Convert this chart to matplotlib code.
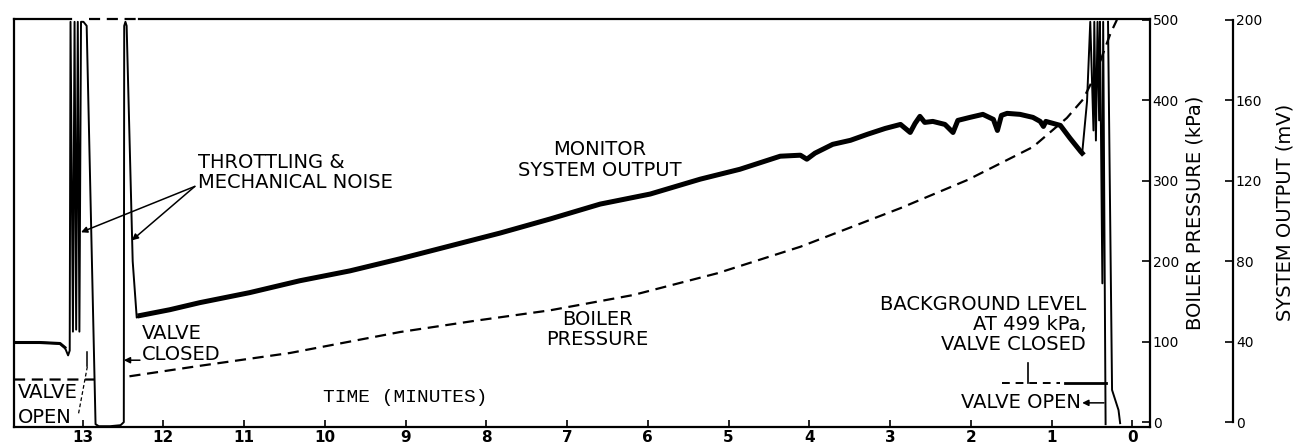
import matplotlib
matplotlib.use("Agg")

import matplotlib.pyplot as plt
import matplotlib.transforms as mtransforms
import numpy as np
from matplotlib import font_manager

nan = np.nan

# time axis in minutes, counting down to 0 at the right
time_ticks = [13, 12, 11, 10, 9, 8, 7, 6, 5, 4, 3, 2, 1, 0]
pressure_ticks = [0, 100, 200, 300, 400, 500]
output_ticks = [0, 40, 80, 120, 160, 200]

# boiler pressure (kPa) -- dashed trace, NaN where the pen is lifted
press_t = [13.85, 12.85, nan, 12.42, 11.55, 10.43, 9.07, 8.14, 7.21, 6.18,
           5.14, 4.11, 2.87, 2.04, 1.23, 0.81, 0.61, 0.46, 0.27, 0.19]
press_kpa = [53, 53, nan, 57, 70, 86, 112, 126, 139, 158,
             185, 218, 266, 301, 342, 378, 401, 431, 483, 500]

# monitor system output (mV)
out_t = [13.85, 13.53, 13.28, 13.22, 13.18, 13.16, 13.15,
         13.12, 13.10, 13.08, 13.06, 13.04, 13.02, 12.99, 12.95,
         12.84, 12.80, 12.66, 12.53, 12.49, 12.485, 12.47, 12.455, 12.38, 12.33,
         12.29, 11.92, 11.55, 10.93, 10.31, 9.69, 9.07, 8.45, 7.83, 7.21,
         6.59, 5.97, 5.35, 4.86, 4.36, 4.11, 4.03, 3.93, 3.71, 3.49,
         3.28, 3.06, 2.87, 2.75, 2.69, 2.63, 2.57, 2.47, 2.32, 2.22,
         2.16, 2.01, 1.85, 1.72, 1.67, 1.62, 1.55, 1.39, 1.23, 1.14,
         1.10, 1.07, 0.89, 0.77, 0.64, 0.62,
         0.56, 0.52, 0.48, 0.47, 0.45, 0.43, 0.41, 0.40, 0.37, 0.36, 0.33,
         nan, 0.30, 0.25, 0.17, 0.15]
out_mv = [39.6, 39.6, 39.1, 37.1, 33.2, 35.6, 199,
          45, 199, 46, 199, 45, 199, 199, 197,
          -1, -2, -2, -1.5, 0, 197, 199, 197, 80, 52,
          53.0, 55.9, 59.4, 64.4, 70.3, 75.2, 81.2, 87.6, 94.0, 101.0,
          108.4, 113.4, 120.8, 125.7, 132.2, 132.7, 130.7, 133.7, 138.1, 140.1,
          143.1, 146.0, 148.0, 144.0, 148.5, 152.0, 149.0, 149.5, 148.0, 144.0,
          150.0, 151.5, 153.0, 150.5, 145.0, 152.5, 153.5, 153.0, 151.5, 149.5,
          147.0, 149.5, 147.5, 141.1, 134.6, 133.7,
          159.4, 199, 145, 199, 140, 199, 150, 199, 69, 199, -1,
          nan, 199, 16, 6, -0.5]

# background level after the valve is closed (mV)
bg_level_mv = 19.3

names = {f.name for f in font_manager.fontManager.ttflist}
num_font = "Liberation Sans Narrow" if "Liberation Sans Narrow" in names else "DejaVu Sans"
txt = dict(family="DejaVu Sans", fontsize=14, color="black")

fig = plt.figure(figsize=(13, 4.43), dpi=100)
ax = fig.add_axes([0.01077, 0.03612, 0.87385, 0.92099])
ax.set_xlim(13.85, -0.22)
ax.set_ylim(-6, 501)

# output axis shares the height: 500 kPa <-> 200 mV
ax2 = ax.twinx()
ax2.set_ylim(-6 * 0.4, 501 * 0.4)

# pressure trace
ax.plot(press_t, press_kpa, color="black", lw=1.6, linestyle=(0, (5, 3)))

# monitor trace: thin for the excursions, heavy for the main ramp
out_t_arr = np.array(out_t)
out_mv_arr = np.array(out_mv)
ax2.plot(out_t_arr, out_mv_arr, color="black", lw=1.4)
ramp = (out_t_arr <= 12.30) & (out_t_arr >= 0.62)
ax2.plot(out_t_arr[ramp], out_mv_arr[ramp], color="black", lw=3.6,
         solid_joinstyle="round")
flat = out_t_arr >= 13.20
ax2.plot(out_t_arr[flat], out_mv_arr[flat], color="black", lw=2.2)

# background level line
ax2.plot([1.61, 0.89], [bg_level_mv, bg_level_mv], color="black", lw=1.4,
         linestyle=(0, (4, 3)))
ax2.plot([0.83, 0.33], [bg_level_mv, bg_level_mv], color="black", lw=2.0)
ax2.plot([1.29, 1.29], [bg_level_mv, bg_level_mv + 10], color="black", lw=1.2)

# frame
ax.spines["top"].set_visible(False)
for sp in ax.spines.values():
    sp.set_linewidth(1.6)
trans = mtransforms.blended_transform_factory(ax.transData, ax.transAxes)
ax.plot([13.85, 13.15], [1, 1], transform=trans, color="black", lw=1.6, clip_on=False)
ax.plot([12.92, 12.30], [1, 1], transform=trans, color="black", lw=1.6,
        linestyle=(0, (5, 3)), clip_on=False)
ax.plot([12.30, -0.22], [1, 1], transform=trans, color="black", lw=1.6, clip_on=False)

ax.set_xticks(time_ticks)
ax.set_xticklabels([str(t) for t in time_ticks], family=num_font,
                   fontsize=11, fontweight="bold")
ax.tick_params(axis="x", direction="in", length=5, width=1.2, pad=2)

ax.yaxis.tick_right()
ax.set_yticks(pressure_ticks)
ax.set_yticklabels([str(p) for p in pressure_ticks], family=num_font, fontsize=10)
ax.tick_params(axis="y", direction="in", length=6, width=1.2, pad=2,
               right=True, left=False)

for side in ["top", "left", "bottom"]:
    ax2.spines[side].set_visible(False)
ax2.spines["right"].set_position(("axes", 1.0731))
ax2.spines["right"].set_bounds(0, 200)
ax2.spines["right"].set_linewidth(1.6)
ax2.set_yticks(output_ticks)
ax2.set_yticklabels([str(v) for v in output_ticks], family=num_font, fontsize=10)
ax2.tick_params(axis="y", direction="in", length=6, width=1.2, pad=2)

# axis titles
fig.text(0.9195, 0.52, "BOILER PRESSURE (kPa)", rotation=90, ha="center",
         va="center", family="DejaVu Sans", fontsize=14)
fig.text(0.9885, 0.52, "SYSTEM OUTPUT (mV)", rotation=90, ha="center",
         va="center", family="DejaVu Sans", fontsize=14)
ax.text(9.01, 31, "TIME (MINUTES)", family="Liberation Mono", fontsize=14,
        ha="center", va="center")

# annotations
ax.text(6.59, 326, "MONITOR\nSYSTEM OUTPUT", ha="center", va="center",
        linespacing=1.12, **txt)
ax.text(6.63, 115, "BOILER\nPRESSURE", ha="center", va="center",
        linespacing=1.07, **txt)
ax.text(11.57, 310, "THROTTLING &\nMECHANICAL NOISE", ha="left", va="center",
        linespacing=1.07, **txt)
arrow = dict(arrowstyle="-|>", color="black", lw=1.1, mutation_scale=9,
             shrinkA=0, shrinkB=0)
ax.annotate("", xy=(13.02, 236), xytext=(11.61, 293), arrowprops=arrow)
ax.annotate("", xy=(12.39, 226), xytext=(11.61, 293), arrowprops=arrow)

ax.text(12.27, 97, "VALVE\nCLOSED", ha="left", va="center", linespacing=1.18, **txt)
ax.annotate("", xy=(12.49, 77), xytext=(12.29, 77), arrowprops=arrow)

ax.text(13.80, 21, "VALVE\nOPEN", ha="left", va="center", linespacing=1.39, **txt)
ax.plot([13.05, 12.94], [11, 70], color="black", lw=0.9, linestyle=(0, (3, 2)))
ax.plot([12.94, 12.94], [70, 87], color="black", lw=1.1)

ax.text(0.57, 121, "BACKGROUND LEVEL\nAT 499 kPa,\nVALVE CLOSED", ha="right",
        va="center", linespacing=1.07, **txt)
ax.text(0.64, 24, "VALVE OPEN", ha="right", va="center", **txt)
ax.annotate("", xy=(0.62, 24), xytext=(0.35, 24), arrowprops=arrow)

fig.savefig("out.png", dpi=100)
